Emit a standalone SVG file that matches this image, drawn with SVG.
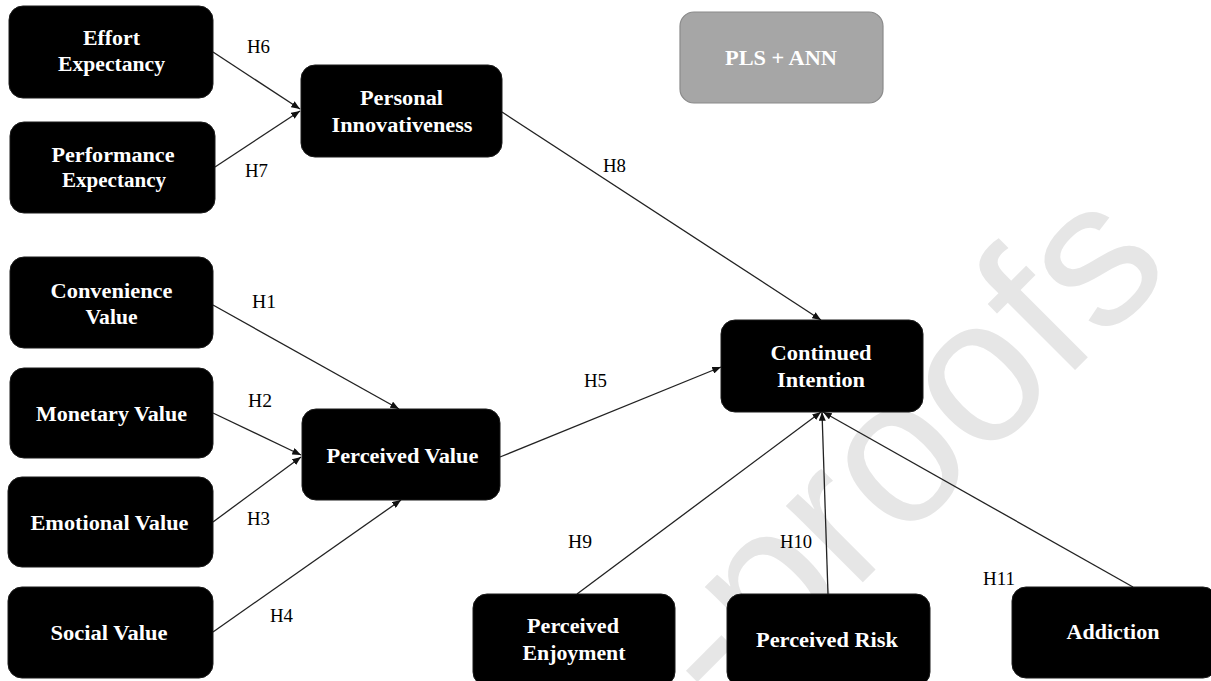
<svg xmlns="http://www.w3.org/2000/svg" width="1211" height="681" viewBox="0 0 1211 681">
<style>
.box{fill:#000;stroke:#1a1a1a;stroke-width:1}
.gbox{fill:#a6a6a6;stroke:#8a8a8a;stroke-width:1.2}
.nt{font-family:"Liberation Serif","Times New Roman",serif;font-weight:bold;font-size:20px;fill:#fff;text-anchor:middle}
.lb{font-family:"Liberation Serif","Times New Roman",serif;font-size:18px;fill:#000}
.wm{font-family:"Liberation Sans",Arial,sans-serif;font-size:205px;fill:#e6e6e6;text-anchor:end}
.cn line{stroke:#222;stroke-width:1.3;fill:none}
</style>
<defs>
<marker id="ah" viewBox="0 0 10 8" refX="10" refY="4" markerWidth="9" markerHeight="7" markerUnits="userSpaceOnUse" orient="auto">
<path d="M0,0 L10,4 L0,8 z" fill="#111"/>
</marker>
</defs>
<rect width="1211" height="681" fill="#fff"/>
<g id="watermark">
<text class="wm" transform="translate(1175,270) rotate(-45)" x="0" y="0">Journal Pre-proofs</text>
</g>
<g id="connectors" class="cn">
<line x1="213" y1="52" x2="300" y2="109" marker-end="url(#ah)"/>
<line x1="215" y1="167" x2="300" y2="111" marker-end="url(#ah)"/>
<line x1="502" y1="112" x2="821" y2="320" marker-end="url(#ah)"/>
<line x1="213" y1="305" x2="399" y2="409" marker-end="url(#ah)"/>
<line x1="213" y1="413" x2="301" y2="455" marker-end="url(#ah)"/>
<line x1="213" y1="522" x2="301" y2="457" marker-end="url(#ah)"/>
<line x1="213" y1="632" x2="401" y2="500" marker-end="url(#ah)"/>
<line x1="500" y1="457" x2="721" y2="367" marker-end="url(#ah)"/>
<line x1="577" y1="594" x2="821" y2="412" marker-end="url(#ah)"/>
<line x1="828" y1="594" x2="822" y2="412" marker-end="url(#ah)"/>
<line x1="1133" y1="587" x2="823" y2="412" marker-end="url(#ah)"/>
</g>
<g id="labels">
<text class="lb" x="247" y="53" textLength="23" lengthAdjust="spacingAndGlyphs">H6</text>
<text class="lb" x="245" y="177" textLength="23" lengthAdjust="spacingAndGlyphs">H7</text>
<text class="lb" x="603" y="172" textLength="23" lengthAdjust="spacingAndGlyphs">H8</text>
<text class="lb" x="252" y="308" textLength="24" lengthAdjust="spacingAndGlyphs">H1</text>
<text class="lb" x="248" y="406.5" textLength="24" lengthAdjust="spacingAndGlyphs">H2</text>
<text class="lb" x="247" y="525" textLength="23" lengthAdjust="spacingAndGlyphs">H3</text>
<text class="lb" x="270" y="621.5" textLength="23" lengthAdjust="spacingAndGlyphs">H4</text>
<text class="lb" x="584" y="387" textLength="23" lengthAdjust="spacingAndGlyphs">H5</text>
<text class="lb" x="568" y="548" textLength="24" lengthAdjust="spacingAndGlyphs">H9</text>
<text class="lb" x="780" y="548" textLength="32" lengthAdjust="spacingAndGlyphs">H10</text>
<text class="lb" x="983" y="585" textLength="32" lengthAdjust="spacingAndGlyphs">H11</text>
</g>
<g id="effort-expectancy">
<rect class="box" x="9" y="6" width="204" height="92" rx="14"/>
<text class="nt" x="111.5" y="45" textLength="57" lengthAdjust="spacingAndGlyphs">Effort</text>
<text class="nt" x="111.5" y="71" textLength="107" lengthAdjust="spacingAndGlyphs">Expectancy</text>
</g>
<g id="performance-expectancy">
<rect class="box" x="10" y="122" width="205" height="91" rx="14"/>
<text class="nt" x="113" y="161.5" textLength="123" lengthAdjust="spacingAndGlyphs">Performance</text>
<text class="nt" x="114" y="186.5" textLength="104" lengthAdjust="spacingAndGlyphs">Expectancy</text>
</g>
<g id="personal-innovativeness">
<rect class="box" x="301" y="65" width="201" height="92" rx="14"/>
<text class="nt" x="401.5" y="105" textLength="83" lengthAdjust="spacingAndGlyphs">Personal</text>
<text class="nt" x="402" y="131.5" textLength="141" lengthAdjust="spacingAndGlyphs">Innovativeness</text>
</g>
<g id="pls-ann">
<rect class="gbox" x="680" y="12" width="203" height="91" rx="14"/>
<text class="nt" x="781" y="65" textLength="112" lengthAdjust="spacingAndGlyphs">PLS + ANN</text>
</g>
<g id="convenience-value">
<rect class="box" x="10" y="257" width="203" height="91" rx="14"/>
<text class="nt" x="111.5" y="297.5" textLength="122" lengthAdjust="spacingAndGlyphs">Convenience</text>
<text class="nt" x="111.5" y="324" textLength="52" lengthAdjust="spacingAndGlyphs">Value</text>
</g>
<g id="monetary-value">
<rect class="box" x="10" y="368" width="203" height="90" rx="14"/>
<text class="nt" x="111.5" y="420.5" textLength="151" lengthAdjust="spacingAndGlyphs">Monetary Value</text>
</g>
<g id="emotional-value">
<rect class="box" x="8" y="477" width="205" height="90" rx="14"/>
<text class="nt" x="109.5" y="530" textLength="158" lengthAdjust="spacingAndGlyphs">Emotional Value</text>
</g>
<g id="social-value">
<rect class="box" x="8" y="587" width="205" height="91" rx="14"/>
<text class="nt" x="109" y="640" textLength="117" lengthAdjust="spacingAndGlyphs">Social Value</text>
</g>
<g id="perceived-value">
<rect class="box" x="302" y="409" width="198" height="91" rx="14"/>
<text class="nt" x="402.5" y="463" textLength="152" lengthAdjust="spacingAndGlyphs">Perceived Value</text>
</g>
<g id="continued-intention">
<rect class="box" x="721" y="320" width="202" height="92" rx="14"/>
<text class="nt" x="821" y="360" textLength="101" lengthAdjust="spacingAndGlyphs">Continued</text>
<text class="nt" x="821" y="387" textLength="88" lengthAdjust="spacingAndGlyphs">Intention</text>
</g>
<g id="perceived-enjoyment">
<rect class="box" x="473" y="594" width="202" height="92" rx="14"/>
<text class="nt" x="573" y="633" textLength="92" lengthAdjust="spacingAndGlyphs">Perceived</text>
<text class="nt" x="574" y="660" textLength="103" lengthAdjust="spacingAndGlyphs">Enjoyment</text>
</g>
<g id="perceived-risk">
<rect class="box" x="727" y="594" width="203" height="92" rx="14"/>
<text class="nt" x="827" y="647" textLength="142" lengthAdjust="spacingAndGlyphs">Perceived Risk</text>
</g>
<g id="addiction">
<rect class="box" x="1012" y="587" width="205" height="91" rx="14"/>
<text class="nt" x="1113" y="639" textLength="93" lengthAdjust="spacingAndGlyphs">Addiction</text>
</g>
</svg>
